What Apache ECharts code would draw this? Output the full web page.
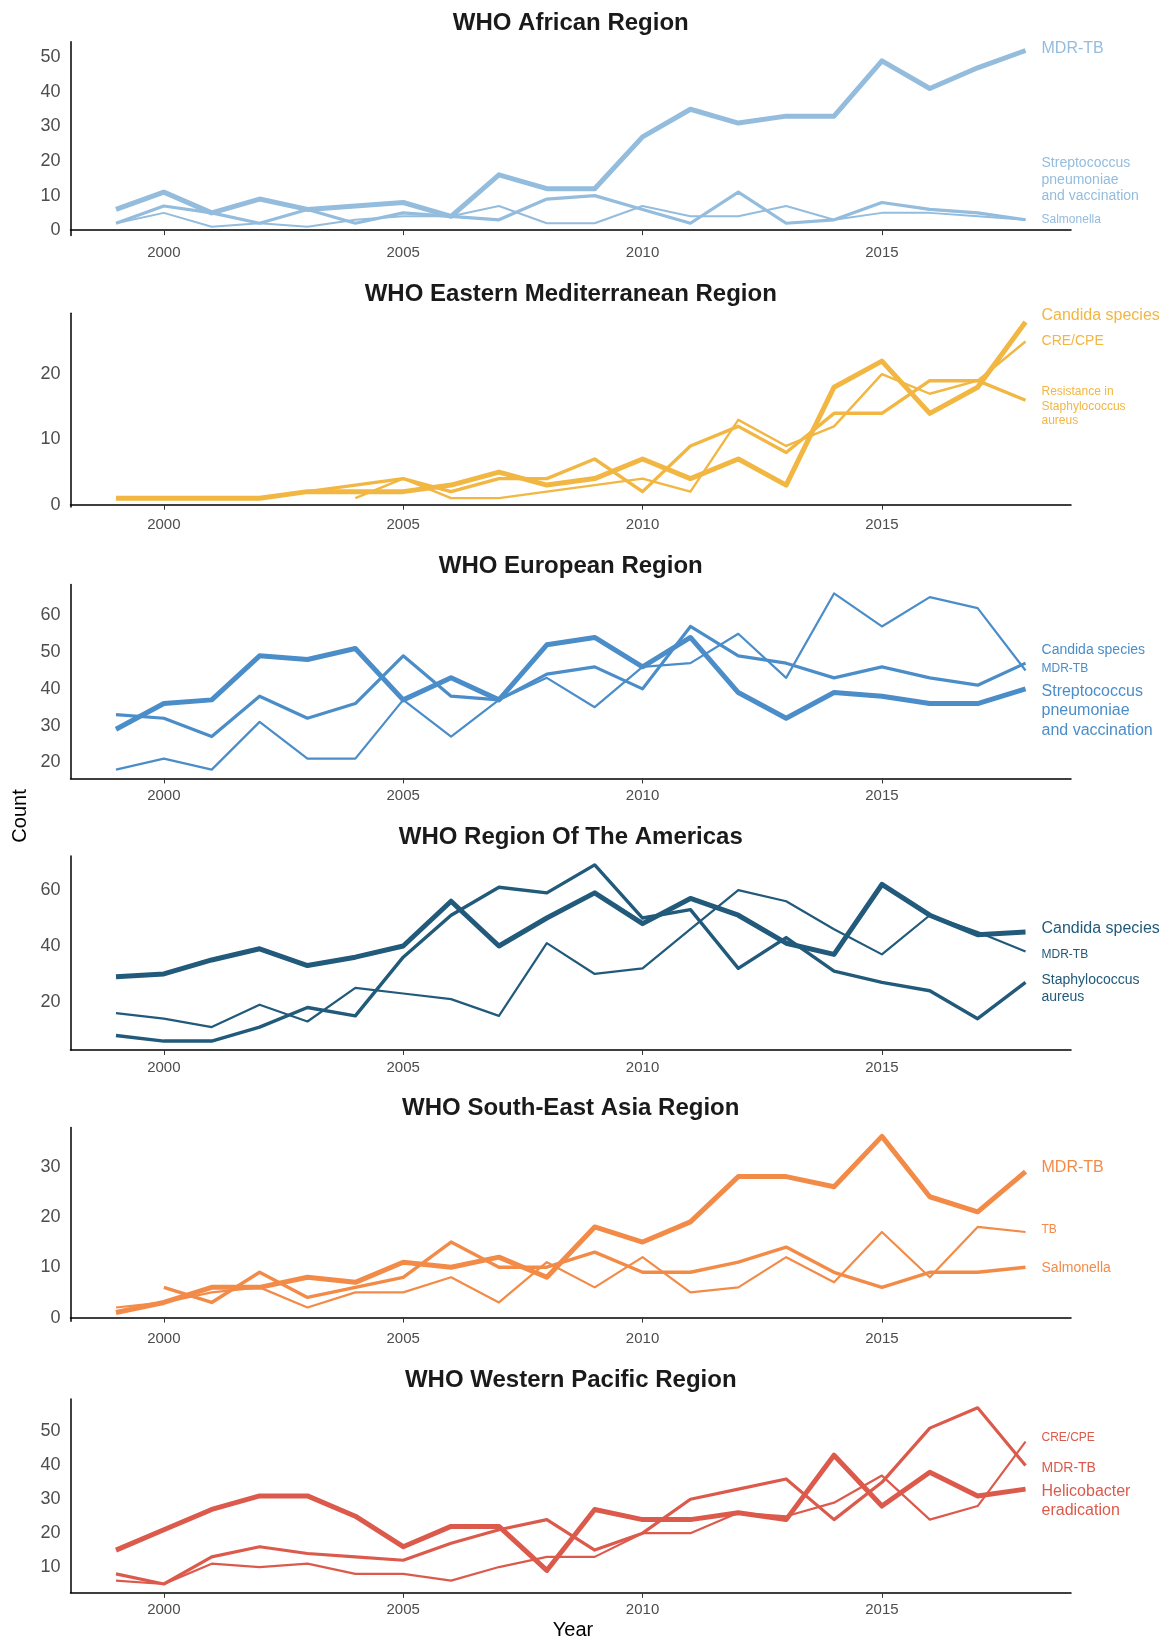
<!DOCTYPE html>
<html>
<head>
<meta charset="utf-8">
<script src="https://cdn.jsdelivr.net/npm/echarts@6/dist/echarts.min.js"></script>
<style>
  html, body { margin: 0; padding: 0; background: #fff; }
  #chart { width: 1164px; height: 1641px; }
</style>
</head>
<body>
<div id="chart"></div>
<script>
var years = [1999, 2000, 2001, 2002, 2003, 2004, 2005, 2006, 2007, 2008,
             2009, 2010, 2011, 2012, 2013, 2014, 2015, 2016, 2017, 2018];
var xTicks = [2000, 2005, 2010, 2015];

// WHO African Region
var afrMdr   = [6, 11, 5, 9, 6, 7, 8, 4, 16, 12, 12, 27, 35, 31, 33, 33, 49, 41, 47, 52];
var afrStrep = [2, 7, 5, 2, 6, 2, 5, 4, 3, 9, 10, 6, 2, 11, 2, 3, 8, 6, 5, 3];
var afrSalm  = [2, 5, 1, 2, 1, 3, 4, 4, 7, 2, 2, 7, 4, 4, 7, 3, 5, 5, 4, 3];
// WHO Eastern Mediterranean Region
var emrCandida = [1, 1, 1, 1, 2, 2, 2, 3, 5, 3, 4, 7, 4, 7, 3, 18, 22, 14, 18, 28];
var emrCre     = [null, null, null, null, null, 1, 4, 1, 1, 2, 3, 4, 2, 13, 9, 12, 20, 17, 19, 25];
var emrStaph   = [1, 1, 1, 1, 2, 3, 4, 2, 4, 4, 7, 2, 9, 12, 8, 14, 14, 19, 19, 16];
// WHO European Region
var eurCandida = [33, 32, 27, 38, 32, 36, 49, 38, 37, 44, 46, 40, 57, 49, 47, 43, 46, 43, 41, 47];
var eurMdr     = [18, 21, 18, 31, 21, 21, 37, 27, 37, 43, 35, 46, 47, 55, 43, 66, 57, 65, 62, 45];
var eurStrep   = [29, 36, 37, 49, 48, 51, 37, 43, 37, 52, 54, 46, 54, 39, 32, 39, 38, 36, 36, 40];
// WHO Region Of The Americas
var amrCandida = [29, 30, 35, 39, 33, 36, 40, 56, 40, 50, 59, 48, 57, 51, 41, 37, 62, 51, 44, 45];
var amrMdr     = [16, 14, 11, 19, 13, 25, 23, 21, 15, 41, 30, 32, 46, 60, 56, 46, 37, 51, 45, 38];
var amrStaph   = [8, 6, 6, 11, 18, 15, 36, 51, 61, 59, 69, 50, 53, 32, 43, 31, 27, 24, 14, 27];
// WHO South-East Asia Region
var seaMdr  = [1, 3, 6, 6, 8, 7, 11, 10, 12, 8, 18, 15, 19, 28, 28, 26, 36, 24, 21, 29];
var seaTb   = [2, 3, 5, 6, 2, 5, 5, 8, 3, 11, 6, 12, 5, 6, 12, 7, 17, 8, 18, 17];
var seaSalm = [null, 6, 3, 9, 4, 6, 8, 15, 10, 10, 13, 9, 9, 11, 14, 9, 6, 9, 9, 10];
// WHO Western Pacific Region
var wprCre    = [6, 5, 11, 10, 11, 8, 8, 6, 10, 13, 13, 20, 20, 26, 25, 29, 37, 24, 28, 47];
var wprMdr    = [8, 5, 13, 16, 14, 13, 12, 17, 21, 24, 15, 20, 30, 33, 36, 24, 35, 51, 57, 40];
var wprHelico = [15, 21, 27, 31, 31, 25, 16, 22, 22, 9, 27, 24, 24, 26, 24, 43, 28, 38, 31, 33];

var FONT = '"Liberation Sans", Arial, Helvetica, sans-serif';

var panels = [
  { title: 'WHO African Region', color: '#94BCDD', yTicks: [0, 10, 20, 30, 40, 50], lines: [
    { label: 'Salmonella', data: afrSalm, w: 2, fs: 12, dy: 0 },
    { label: 'Streptococcus\npneumoniae\nand vaccination', data: afrStrep, w: 3.2, fs: 14, dy: -40, lh: 16.7 },
    { label: 'MDR-TB', data: afrMdr, w: 5, fs: 16, dy: -2 }
  ]},
  { title: 'WHO Eastern Mediterranean Region', color: '#F2B642', yTicks: [0, 10, 20], lines: [
    { label: 'CRE/CPE', data: emrCre, w: 2.4, fs: 14, dy: 0 },
    { label: 'Resistance in\nStaphylococcus\naureus', data: emrStaph, w: 3.4, fs: 12, dy: 6, lh: 14.7 },
    { label: 'Candida species', data: emrCandida, w: 5, fs: 16, dy: -6 }
  ]},
  { title: 'WHO European Region', color: '#4B8DC8', yTicks: [20, 30, 40, 50, 60], lines: [
    { label: 'MDR-TB', data: eurMdr, w: 2.2, fs: 12, dy: -2 },
    { label: 'Candida species', data: eurCandida, w: 3.2, fs: 14, dy: -13 },
    { label: 'Streptococcus\npneumoniae\nand vaccination', data: eurStrep, w: 5, fs: 16, dy: 22, lh: 19.4 }
  ]},
  { title: 'WHO Region Of The Americas', color: '#215A7A', yTicks: [20, 40, 60], lines: [
    { label: 'MDR-TB', data: amrMdr, w: 2.2, fs: 12, dy: 3 },
    { label: 'Staphylococcus\naureus', data: amrStaph, w: 3.4, fs: 14, dy: 6, lh: 16.7 },
    { label: 'Candida species', data: amrCandida, w: 5, fs: 16, dy: -3 }
  ]},
  { title: 'WHO South-East Asia Region', color: '#F38B48', yTicks: [0, 10, 20, 30], lines: [
    { label: 'TB', data: seaTb, w: 2.2, fs: 12, dy: -2 },
    { label: 'Salmonella', data: seaSalm, w: 3.4, fs: 14, dy: 1 },
    { label: 'MDR-TB', data: seaMdr, w: 5, fs: 16, dy: -4 }
  ]},
  { title: 'WHO Western Pacific Region', color: '#DC5A4C', yTicks: [10, 20, 30, 40, 50], lines: [
    { label: 'CRE/CPE', data: wprCre, w: 2.2, fs: 12, dy: -4 },
    { label: 'MDR-TB', data: wprMdr, w: 3.2, fs: 14, dy: 3 },
    { label: 'Helicobacter\neradication', data: wprHelico, w: 5, fs: 16, dy: 12, lh: 18.8 }
  ]}
];

var top0 = 41.7, step = 271.46, plotH = 193.8;
var gridLeft = 70.5, gridRight = 93;
var xMin = 1999 - 0.95, xMax = 2018 + 0.95;

var grids = [], xAxes = [], yAxes = [], series = [], graphics = [];

panels.forEach(function (p, i) {
  var all = [];
  p.lines.forEach(function (l) {
    l.data.forEach(function (v) { if (v !== null) all.push(v); });
  });
  var lo = Math.min.apply(null, all), hi = Math.max.apply(null, all);
  var pad = (hi - lo) * 0.05;

  grids.push({ left: gridLeft, right: gridRight, top: top0 + i * step, height: plotH });

  xAxes.push({
    type: 'value', gridIndex: i, min: xMin, max: xMax,
    axisLine: { show: true, lineStyle: { color: '#000', width: 1.5 } },
    axisTick: { show: true, length: 5, customValues: xTicks, lineStyle: { color: '#333', width: 1 } },
    axisLabel: {
      customValues: xTicks, color: '#4D4D4D', fontSize: 15, fontFamily: FONT, margin: 10,
      formatter: function (v) { return String(v); }
    },
    splitLine: { show: false }
  });
  yAxes.push({
    type: 'value', gridIndex: i, min: lo - pad, max: hi + pad,
    axisLine: { show: true, lineStyle: { color: '#000', width: 1.5 } },
    axisTick: { show: false },
    axisLabel: { customValues: p.yTicks, color: '#4D4D4D', fontSize: 18, fontFamily: FONT, margin: 10 },
    splitLine: { show: false }
  });

  p.lines.forEach(function (l) {
    var pts = [];
    years.forEach(function (y, k) {
      if (l.data[k] !== null) pts.push([y, l.data[k]]);
    });
    series.push({
      type: 'line', xAxisIndex: i, yAxisIndex: i, data: pts,
      symbol: 'none', silent: true, animation: false,
      lineStyle: { color: p.color, width: l.w, join: 'round', cap: 'butt' },
      itemStyle: { color: p.color },
      endLabel: {
        show: true, formatter: l.label, color: p.color, fontSize: l.fs,
        fontFamily: FONT, lineHeight: l.lh || l.fs * 1.2, offset: [8, l.dy], align: 'left'
      }
    });
  });

  graphics.push({
    type: 'text', x: gridLeft + (1164 - gridLeft - gridRight) / 2, y: 23 + i * step,
    style: { text: p.title, font: 'bold 24px ' + FONT, fill: '#1A1A1A', align: 'center', verticalAlign: 'middle' }
  });
});

graphics.push({
  type: 'text', x: 20, y: 816, rotation: Math.PI / 2,
  style: { text: 'Count', font: '20px ' + FONT, fill: '#000', align: 'center', verticalAlign: 'middle' }
});
graphics.push({
  type: 'text', x: 573, y: 1630,
  style: { text: 'Year', font: '20px ' + FONT, fill: '#000', align: 'center', verticalAlign: 'middle' }
});

var chart = echarts.init(document.getElementById('chart'));
chart.setOption({
  backgroundColor: '#fff',
  animation: false,
  grid: grids,
  xAxis: xAxes,
  yAxis: yAxes,
  series: series,
  graphic: graphics
});
</script>
</body>
</html>
